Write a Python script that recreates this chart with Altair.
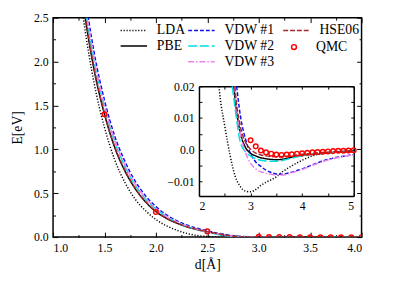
import altair as alt
import pandas as pd

# ---------------- data ----------------
d_grid = [1.2, 1.3, 1.4, 1.5, 1.6, 1.7, 1.8, 1.9, 2.0,
          2.1, 2.2, 2.3, 2.4, 2.5, 2.6, 2.7, 2.8, 2.9, 3.0,
          3.1, 3.2, 3.3, 3.4, 3.5, 3.6, 3.7, 3.8, 3.9, 4.0,
          4.2, 4.4, 4.6, 4.8, 5.0]

e_lda = [3.4, 2.45, 1.75, 1.25, 0.88, 0.62, 0.43, 0.30, 0.20,
         0.13, 0.08, 0.042, 0.018, 0.0075, -0.0015, -0.0082, -0.0115, -0.013, -0.0132,
         -0.0125, -0.0112, -0.0102, -0.0094, -0.0085, -0.0071, -0.006, -0.005, -0.0041, -0.0033,
         -0.0019, -0.0012, -0.0008, -0.0006, -0.0005]
e_pbe = [3.5, 2.6, 1.9, 1.4, 1.02, 0.75, 0.55, 0.40, 0.29,
         0.215, 0.16, 0.117, 0.085, 0.06, 0.036, 0.016, 0.0055, 0.0008, -0.0011,
         -0.0019, -0.0025, -0.0028, -0.003, -0.0031, -0.003, -0.0027, -0.0023, -0.002, -0.0018,
         -0.0014, -0.0011, -0.0008, -0.0006, -0.0005]
e_vdw1 = [3.85, 2.85, 2.1, 1.56, 1.15, 0.86, 0.635, 0.47, 0.347,
          0.255, 0.188, 0.138, 0.1, 0.07, 0.045, 0.025, 0.011, 0.0035, -0.0012,
          -0.0038, -0.0052, -0.0064, -0.0071, -0.0076, -0.0077, -0.0074, -0.007, -0.0065, -0.006,
          -0.0047, -0.0035, -0.0026, -0.002, -0.0015]
e_vdw2 = [3.7, 2.72, 2.0, 1.48, 1.09, 0.8, 0.59, 0.435, 0.32,
          0.235, 0.17, 0.122, 0.085, 0.056, 0.031, 0.013, 0.0025, -0.0006, -0.0019,
          -0.0028, -0.0033, -0.0035, -0.0036, -0.0036, -0.0034, -0.003, -0.0026, -0.0022, -0.0019,
          -0.0014, -0.0011, -0.0008, -0.0006, -0.0005]
e_vdw3 = [3.75, 2.75, 2.03, 1.5, 1.1, 0.82, 0.6, 0.445, 0.328,
          0.24, 0.176, 0.128, 0.091, 0.062, 0.037, 0.018, 0.0055, -0.0008, -0.0042,
          -0.006, -0.0069, -0.0074, -0.0077, -0.0079, -0.0079, -0.0077, -0.0072, -0.0067, -0.0062,
          -0.0049, -0.0037, -0.0028, -0.0021, -0.0016]
e_hse = [3.55, 2.62, 1.92, 1.41, 1.03, 0.76, 0.555, 0.405, 0.295,
         0.218, 0.162, 0.119, 0.087, 0.062, 0.039, 0.019, 0.0075, 0.0025, 0.0002,
         -0.001, -0.0016, -0.0019, -0.0021, -0.0022, -0.0021, -0.002, -0.0018, -0.0016, -0.0014,
         -0.0011, -0.0008, -0.0006, -0.0004, -0.0003]

# where each curve enters the inset through its top edge (E = 0.02 eV)
cross_d = {"LDA": 2.388, "PBE": 2.675, "VDW #1": 2.73, "VDW #2": 2.645,
           "VDW #3": 2.69, "HSE06": 2.695}
cross_e = 0.02

qmc_d = [1.5, 2.0, 2.5, 3.0, 3.1, 3.2, 3.3, 3.4, 3.5, 3.6, 3.7, 3.8, 3.9, 4.0,
         4.1, 4.2, 4.3, 4.4, 4.5, 4.6, 4.7, 4.8, 4.9, 5.0]
qmc_e = [1.40, 0.285, 0.065, 0.003, 0.0011, -0.0002, -0.0008, -0.0012, -0.0015,
         -0.0016, -0.0015, -0.0014, -0.0012, -0.0011, -0.0009, -0.0008, -0.0007,
         -0.0006, -0.0005, -0.0004, -0.0003, -0.0003, -0.0002, -0.0001]

methods = ["LDA", "PBE", "VDW #1", "VDW #2", "VDW #3", "HSE06"]
series = [e_lda, e_pbe, e_vdw1, e_vdw2, e_vdw3, e_hse]
colors = {"LDA": "black", "PBE": "black", "VDW #1": "#1010e8", "VDW #2": "#00dede",
          "VDW #3": "#ee82ee", "HSE06": "#a52a2a"}
dashes = {"LDA": [1.2, 1.8], "PBE": [1, 0], "VDW #1": [4, 2], "VDW #2": [9, 3],
          "VDW #3": [6, 2, 1.5, 2], "HSE06": [5, 2]}
# legend columns, as in the picture
legend_groups = [["LDA", "PBE"], ["VDW #1", "VDW #2", "VDW #3"], ["HSE06"]]
legend_x = [75.5, 144.5, 241.5]

main_x_labels = [1.0, 1.5, 2.0, 2.5, 3.0, 3.5, 4.0]
main_x_ticks = [1.0, 1.25, 1.5, 1.75, 2.0, 2.25, 2.5, 2.75, 3.0, 3.25, 3.5, 3.75, 4.0]
main_y_labels = [0.0, 0.5, 1.0, 1.5, 2.0, 2.5]
main_y_ticks = [0.0, 0.25, 0.5, 0.75, 1.0, 1.25, 1.5, 1.75, 2.0, 2.25, 2.5]
in_x_labels = [2, 3, 4, 5]
in_x_ticks = [2, 2.5, 3, 3.5, 4, 4.5, 5]
in_y_labels = [-0.01, 0.0, 0.01, 0.02]
in_y_ticks = [-0.01, -0.005, 0.0, 0.005, 0.01, 0.015, 0.02]

# ---------------- tables ----------------
rows = []
for m, vals in zip(methods, series):
    pts = sorted(list(zip(d_grid, vals)) + [(cross_d[m], cross_e)])
    for d, e in pts:
        rows.append({"method": m, "d": d, "E": e})
lines = pd.DataFrame(rows)
qmc = pd.DataFrame({"method": "QMC", "d": qmc_d, "E": qmc_e})

# ---------------- layout ----------------
FONT = "Liberation Serif"
W, H = 315, 224
IX0, IX1, IY0, IY1 = 149, 307, 182, 70  # inset box inside the plot area

x_main = alt.Scale(domain=[1, 4], nice=False, zero=False)
y_main = alt.Scale(domain=[0, 2.5], nice=False, zero=False)
x_in = alt.Scale(domain=[2, 5], range=[IX0, IX1], nice=False, zero=False)
y_in = alt.Scale(domain=[-0.0145, 0.02], range=[IY0, IY1], nice=False, zero=False)

major_main = {"condition": {"test": "round(datum.value*4) % 2 == 0", "value": 5}, "value": 2.5}

lab = dict(labelFont=FONT, labelFontSize=12, labelColor="black",
           titleFont=FONT, titleFontSize=14, titleFontWeight="normal", titleColor="black")


def tick_axis(orient, offset, values, size):
    return alt.Axis(orient=orient, offset=offset, values=values, labels=False,
                    domain=False, grid=False, ticks=True, tickSize=size,
                    tickColor="black", tickWidth=1, title=None)


def frame_axis(orient, offset, values, size):
    return alt.Axis(orient=orient, offset=offset, values=values, labels=False,
                    domain=True, domainColor="black", domainWidth=1.5, grid=False,
                    ticks=True, tickSize=size, tickColor="black", tickWidth=1, title=None)


def group_enc(group, legend):
    cs = alt.Scale(domain=group, range=[colors[m] for m in group])
    ds = alt.Scale(domain=group, range=[dashes[m] for m in group])
    return (alt.Color("method:N", scale=cs, legend=legend),
            alt.StrokeDash("method:N", scale=ds, legend=legend))


def line_legend(x):
    return alt.Legend(title=None, orient="none", legendX=x, legendY=6, direction="vertical",
                      rowPadding=2, symbolType="M-13.5,0H13.5", symbolSize=4,
                      symbolStrokeWidth=1.5, labelFont=FONT, labelFontSize=14,
                      labelColor="black", labelOffset=16.5)


layers = []
first = True
for group, gx in zip(legend_groups, legend_x):
    leg = line_legend(gx)
    col, dash = group_enc(group, leg)
    if first:
        xax = alt.Axis(orient="bottom", values=main_x_labels, format=".1f", ticks=False,
                       domain=False, grid=False, labelPadding=6, title="d[Å]",
                       titlePadding=4, **lab)
        yax = alt.Axis(orient="left", values=main_y_labels, format=".1f", ticks=False,
                       domain=False, grid=False, labelPadding=5, title="E[eV]",
                       titlePadding=9, **lab)
    else:
        xax = None
        yax = None
    layers.append(
        alt.Chart(lines).transform_filter(
            alt.FieldOneOfPredicate(field="method", oneOf=group)
        ).mark_line(clip=True, strokeWidth=1.5, interpolate="monotone").encode(
            x=alt.X("d:Q", scale=x_main, axis=xax),
            y=alt.Y("E:Q", scale=y_main, axis=yax),
            color=col, strokeDash=dash, order=alt.Order("d:Q"),
        )
    )
    first = False

# main QMC points; inward ticks on bottom and left edges
layers.append(alt.Chart(qmc).mark_point(clip=True, filled=False, color="red", size=22,
                                        strokeWidth=1.5, opacity=1).encode(
    x=alt.X("d:Q", scale=x_main, axis=tick_axis("top", -H, main_x_ticks, major_main)),
    y=alt.Y("E:Q", scale=y_main, axis=tick_axis("right", -W, main_y_ticks, major_main)),
    shape=alt.Shape("method:N", scale=alt.Scale(domain=["QMC"], range=["circle"]),
                    legend=alt.Legend(title=None, orient="none", legendX=239, legendY=23,
                                      symbolSize=25, symbolStrokeWidth=1.5,
                                      symbolStrokeColor="red", symbolFillColor="transparent",
                                      labelFont=FONT, labelFontSize=14, labelColor="black",
                                      labelOffset=15.5)),
))

# inward ticks on top and right edges of the main frame
layers.append(alt.Chart(qmc).mark_point(opacity=0).encode(
    x=alt.X("d:Q", scale=x_main, axis=tick_axis("bottom", -H, main_x_ticks, major_main)),
    y=alt.Y("E:Q", scale=y_main, axis=tick_axis("left", -W, main_y_ticks, major_main)),
))

# inset curves
first = True
for group in legend_groups:
    col, dash = group_enc(group, None)
    if first:
        xax = alt.Axis(orient="bottom", offset=-(H - IY0), values=in_x_labels, format="d",
                       ticks=False, domain=True, domainColor="black", domainWidth=1.5,
                       grid=False, labelPadding=5, title=None, **lab)
        yax = alt.Axis(orient="left", offset=-IX0, values=in_y_labels,
                       labelExpr="datum.value == 0 ? '0.0' : format(datum.value, '.2f')",
                       ticks=False, domain=True, domainColor="black", domainWidth=1.5,
                       grid=False, labelPadding=5, title=None, **lab)
    else:
        xax = None
        yax = None
    layers.append(
        alt.Chart(lines).transform_filter(
            alt.FieldOneOfPredicate(field="method", oneOf=group)
        ).transform_filter(
            "datum.E <= 0.02 && datum.E >= -0.0145 && datum.d >= 2"
        ).mark_line(strokeWidth=1.5, interpolate="monotone").encode(
            x=alt.X("d:Q", scale=x_in, axis=xax),
            y=alt.Y("E:Q", scale=y_in, axis=yax),
            color=col, strokeDash=dash, order=alt.Order("d:Q"),
        )
    )
    first = False

layers.append(alt.Chart(qmc).transform_filter(
    "datum.E <= 0.02 && datum.d >= 2"
).mark_point(filled=False, color="red", size=22, strokeWidth=1.5, opacity=1).encode(
    x=alt.X("d:Q", scale=x_in, axis=tick_axis("top", -IY0, in_x_ticks, 3)),
    y=alt.Y("E:Q", scale=y_in, axis=tick_axis("right", -(W - IX0), in_y_ticks, 3)),
))

layers.append(alt.Chart(qmc).transform_filter("datum.d >= 3").mark_point(opacity=0).encode(
    x=alt.X("d:Q", scale=x_in, axis=frame_axis("bottom", -(H - IY1), in_x_ticks, 3)),
    y=alt.Y("E:Q", scale=y_in, axis=frame_axis("left", -IX1, in_y_ticks, 3)),
))

chart = alt.layer(*layers).resolve_scale(
    x="independent", y="independent", color="independent", strokeDash="independent"
).properties(
    width=W, height=H,
    autosize=alt.AutoSizeParams(type="none"),
    padding={"left": 46, "top": 7, "right": 27, "bottom": 45},
    background="white",
).configure_view(
    stroke="black", strokeWidth=1.5
)

chart.save("out.html", embed_options={"renderer": "svg", "actions": False})
